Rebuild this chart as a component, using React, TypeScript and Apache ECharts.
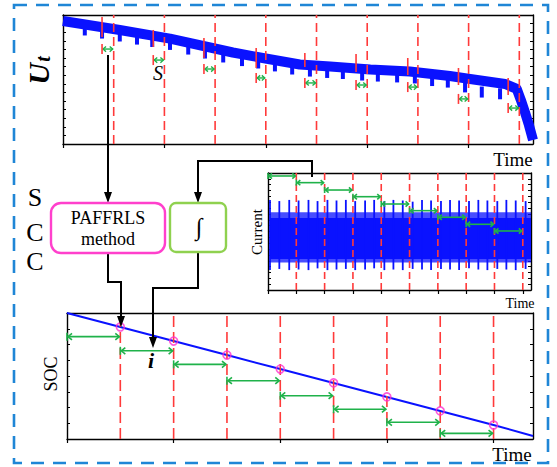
import React, { useEffect, useRef } from 'react';
import * as echarts from 'echarts';

const SERIF = '"Liberation Serif","Times New Roman",serif';
const BLUE = '#0a12ff';
const RED = '#ff3a3a';
const GREEN = '#1fb24a';

// ---------- Top panel: terminal voltage Ut ----------
const utX = [0, 1.12, 2.11, 3.35, 3.94, 4.67, 5.27, 6.06, 6.84, 7.63, 8.03, 8.72, 8.95, 9.03, 9.11, 9.19, 9.27];
const utV = [7.15, 6.63, 6.13, 5.32, 5.0, 4.62, 4.51, 4.33, 4.22, 3.95, 3.78, 3.49, 3.2, 2.56, 1.86, 1.1, 0.23];
const dipX = [0.43, 0.77, 1.12, 1.46, 1.76, 2.11, 2.47, 2.8, 3.16, 3.53, 3.85, 4.18, 4.52, 4.87, 5.21, 5.52, 5.9, 6.21, 6.59, 6.94, 7.28, 7.59, 7.93, 8.26, 8.62];
const dipV = [6.31, 6.13, 5.96, 5.78, 5.64, 5.47, 5.2, 4.97, 4.74, 4.53, 4.39, 4.22, 4.04, 3.92, 3.84, 3.78, 3.69, 3.63, 3.58, 3.52, 3.37, 3.28, 3.0, 2.7, 2.6];
const topRedX = [1, 2, 3, 4, 5, 6, 7, 8, 9];
const markX = [0.77, 1.78, 2.78, 3.81, 4.77, 5.78, 6.8, 7.8, 8.78];
const markTop = [7.38, 6.63, 6.16, 5.58, 5.29, 5.23, 5.0, 4.42, 3.84];
const markBottom = [6.22, 5.64, 5.0, 4.42, 4.48, 4.19, 4.01, 3.43, 2.85];
const topArrowY = [5.52, 4.88, 4.36, 3.84, 3.55, 3.43, 3.31, 2.62, 2.09];

// ---------- Middle panel: current ----------
const curRedX = [1, 2, 3, 4, 5, 6, 7, 8, 9];
const curArrowY = [19.49, 18.35, 17.09, 15.95, 14.7, 13.56, 12.43, 11.23, 10.09];
const spikeX = [0.07, 0.4, 0.75, 1.08, 1.43, 1.75, 2.1, 2.42, 2.75, 3.08, 3.43, 3.75, 4.11, 4.43, 4.76, 5.11, 5.44, 5.76, 6.11, 6.43, 6.75, 7.1, 7.43, 7.75, 8.1, 8.42, 8.75, 9.1];
const spikeHigh = [15.4, 15.2, 15.4, 15.3, 15.4, 15.2, 15.4, 15.3, 15.4, 15.2, 15.3, 15.4, 15.2, 15.4, 15.3, 15.1, 15.4, 15.3, 15.2, 15.4, 15.3, 15.2, 15.4, 15.3, 15.2, 15.4, 15.3, 15.2];
const spikeLow = [3.4, 3.6, 3.4, 3.5, 3.4, 3.7, 3.4, 3.5, 3.6, 3.4, 3.5, 3.7, 3.4, 3.5, 3.4, 3.6, 3.5, 3.4, 3.6, 3.5, 3.4, 3.7, 3.5, 3.4, 3.6, 3.5, 3.4, 3.6];
const coreBand = [[0.07, 9.29, 5.3, 12.3]];
const fuzzBand = [[0.07, 9.29, 12.3, 13.3], [0.07, 9.29, 4.7, 5.3]];

// ---------- Bottom panel: SOC ----------
const socX = [0, 1, 2, 3, 4, 5, 6, 7, 8, 8.74];
const socV = [8.0, 7.11, 6.22, 5.33, 4.44, 3.56, 2.67, 1.78, 0.89, 0.19];
const socRedX = [1, 2, 3, 4, 5, 6, 7, 8];
const socArrowY = [6.5, 5.6, 4.74, 3.7, 2.75, 1.89, 1.06, 0.36];

const TOP_MAX_X = 9.27, CUR_MAX_X = 9.29, SOC_MAX_X = 8.74;
const TOP_MAX_Y = 7.5, CUR_MAX_Y = 20, SOC_MAX_Y = 8;

function redLines(xi: number, yi: number, xs: number[], yMax: number, dash: number[]) {
  return {
    type: 'custom', xAxisIndex: xi, yAxisIndex: yi, z: 5, silent: true,
    data: xs.map((x) => [x, 0]),
    renderItem: (p: any, api: any) => {
      const a = api.coord([api.value(0), 0]);
      const b = api.coord([api.value(0), yMax]);
      return { type: 'line', shape: { x1: a[0], y1: a[1], x2: b[0], y2: b[1] }, style: { stroke: RED, lineWidth: 1.6, lineDash: dash } };
    },
  };
}

function arrows(xi: number, yi: number, data: number[][], head: number, lw: number, barColor: string, barH: number) {
  return {
    type: 'custom', xAxisIndex: xi, yAxisIndex: yi, z: 6, silent: true,
    data,
    renderItem: (p: any, api: any) => {
      const a = api.coord([api.value(0), api.value(2)]);
      const b = api.coord([api.value(1), api.value(2)]);
      const st = { stroke: GREEN, lineWidth: lw, fill: 'none' };
      const hh = head * 0.65;
      return {
        type: 'group',
        children: [
          { type: 'line', shape: { x1: a[0] + 1, y1: a[1], x2: b[0] - 1, y2: b[1] }, style: st },
          { type: 'polyline', shape: { points: [[a[0] + head, a[1] - hh], [a[0] + 1, a[1]], [a[0] + head, a[1] + hh]] }, style: st },
          { type: 'polyline', shape: { points: [[b[0] - head, b[1] - hh], [b[0] - 1, b[1]], [b[0] - head, b[1] + hh]] }, style: st },
          { type: 'line', shape: { x1: a[0], y1: a[1] - barH, x2: a[0], y2: a[1] + barH }, style: { stroke: barColor, lineWidth: 1.6 } },
        ],
      };
    },
  };
}

function rects(xi: number, yi: number, data: number[][], opacity: number) {
  return {
    type: 'custom', xAxisIndex: xi, yAxisIndex: yi, z: 2, silent: true,
    data,
    renderItem: (p: any, api: any) => {
      const a = api.coord([api.value(0), api.value(3)]);
      const b = api.coord([api.value(1), api.value(2)]);
      return { type: 'rect', shape: { x: a[0], y: a[1], width: b[0] - a[0], height: b[1] - a[1] }, style: { fill: BLUE, opacity } };
    },
  };
}

function axesFor(grid: number, maxX: number, xInt: number, xTicks: number[], maxY: number, yInt: number) {
  const line = { show: true, onZero: false, lineStyle: { color: '#000', width: 1.4 } };
  const xs = [
    { type: 'value', gridIndex: grid, min: 0, max: maxX, interval: xInt, position: 'bottom', axisLine: line,
      axisTick: { show: true, inside: false, length: 4, customValues: xTicks, lineStyle: { color: '#000', width: 1.2 } },
      axisLabel: { show: false }, splitLine: { show: false } },
    { type: 'value', gridIndex: grid, min: 0, max: maxX, position: 'top', axisLine: line,
      axisTick: { show: false }, axisLabel: { show: false }, splitLine: { show: false } },
  ];
  const ys = [
    { type: 'value', gridIndex: grid, min: 0, max: maxY, interval: yInt, position: 'left', axisLine: line,
      axisTick: { show: true, inside: true, length: 3, lineStyle: { color: '#000', width: 1 } },
      axisLabel: { show: false }, splitLine: { show: false } },
    { type: 'value', gridIndex: grid, min: 0, max: maxY, interval: yInt, position: 'right', axisLine: line,
      axisTick: { show: true, inside: true, length: 3, lineStyle: { color: '#000', width: 1 } },
      axisLabel: { show: false }, splitLine: { show: false } },
  ];
  return { xs, ys };
}

function txt(x: number, y: number, text: string, size: number, extra: any = {}, rotation = 0) {
  return {
    type: 'text', x, y, rotation, z: 50,
    style: { text, fontSize: size, fontFamily: SERIF, fill: '#000', align: 'center', verticalAlign: 'middle', ...extra },
  };
}

function poly(points: number[][]) {
  return { type: 'polyline', z: 40, shape: { points }, style: { stroke: '#000', lineWidth: 2, fill: 'none' } };
}

function headDown(x: number, tip: number) {
  return { type: 'polygon', z: 41, shape: { points: [[x - 4, tip - 11], [x + 4, tip - 11], [x, tip]] }, style: { fill: '#000' } };
}

export default function App() {
  const ref = useRef<HTMLDivElement>(null);
  useEffect(() => {
    if (!ref.current) return;
    const chart = echarts.init(ref.current, undefined, { renderer: 'svg' });
    const A = axesFor(0, TOP_MAX_X, 2, [0, 2, 4, 6, 8], TOP_MAX_Y, 0.5);
    const B = axesFor(1, CUR_MAX_X, 1, [0, 1, 2, 3, 4, 5, 6, 7, 8, 9], CUR_MAX_Y, 1);
    const C = axesFor(2, SOC_MAX_X, 2, [0, 2, 4, 6, 8], SOC_MAX_Y, 1);

    const option: any = {
      animation: false,
      backgroundColor: '#fff',
      grid: [
        { left: 63, top: 15, width: 470, height: 129 },
        { left: 268, top: 173, width: 263, height: 117 },
        { left: 67, top: 313, width: 466, height: 126 },
      ],
      xAxis: [A.xs[0], A.xs[1], B.xs[0], B.xs[1], C.xs[0], C.xs[1]],
      yAxis: [A.ys[0], A.ys[1], B.ys[0], B.ys[1], C.ys[0], C.ys[1]],
      series: [
        // top
        {
          type: 'custom', xAxisIndex: 0, yAxisIndex: 0, z: 2, silent: true,
          data: dipX.map((x, i) => [x, dipV[i]]),
          renderItem: (p: any, api: any) => {
            const c = api.coord([api.value(0), api.value(1)]);
            return { type: 'rect', shape: { x: c[0] - 2, y: c[1] - 11, width: 4, height: 11 }, style: { fill: BLUE } };
          },
        },
        {
          type: 'line', xAxisIndex: 0, yAxisIndex: 0, z: 3, symbol: 'none', silent: true,
          data: utX.map((x, i) => [x, utV[i]]),
          lineStyle: { color: BLUE, width: 10, join: 'round', cap: 'butt' },
        },
        redLines(0, 0, topRedX, TOP_MAX_Y, [9, 5]),
        {
          type: 'custom', xAxisIndex: 0, yAxisIndex: 0, z: 6, silent: true,
          data: markX.map((x, i) => [x, markBottom[i], markTop[i]]),
          renderItem: (p: any, api: any) => {
            const a = api.coord([api.value(0), api.value(1)]);
            const b = api.coord([api.value(0), api.value(2)]);
            return { type: 'line', shape: { x1: a[0], y1: a[1], x2: b[0], y2: b[1] }, style: { stroke: RED, lineWidth: 1.6 } };
          },
        },
        arrows(0, 0, markX.map((x, i) => [x, topRedX[i], topArrowY[i]]), 4, 1.4, RED, 5),
        // current
        rects(2, 2, fuzzBand, 0.75),
        rects(2, 2, coreBand, 1),
        {
          type: 'custom', xAxisIndex: 2, yAxisIndex: 2, z: 3, silent: true,
          data: spikeX.map((x, i) => [x, spikeLow[i], spikeHigh[i]]),
          renderItem: (p: any, api: any) => {
            const a = api.coord([api.value(0), api.value(1)]);
            const b = api.coord([api.value(0), api.value(2)]);
            return { type: 'line', shape: { x1: a[0], y1: a[1], x2: b[0], y2: b[1] }, style: { stroke: BLUE, lineWidth: 1.8 } };
          },
        },
        redLines(2, 2, curRedX, CUR_MAX_Y, [7, 4]),
        arrows(2, 2, curRedX.map((x, i) => [x - 1, x, curArrowY[i]]), 4, 1.6, GREEN, 3),
        // SOC
        {
          type: 'line', xAxisIndex: 4, yAxisIndex: 4, z: 3, symbol: 'none', silent: true,
          data: socX.map((x, i) => [x, socV[i]]),
          lineStyle: { color: BLUE, width: 2 },
        },
        redLines(4, 4, socRedX, SOC_MAX_Y, [11, 5]),
        {
          type: 'scatter', xAxisIndex: 4, yAxisIndex: 4, z: 7, silent: true,
          data: socRedX.map((x) => [x, socV[socX.indexOf(x)]]),
          symbol: 'circle', symbolSize: 8,
          itemStyle: { color: 'rgba(0,0,0,0)', borderColor: '#ff30d0', borderWidth: 1.6 },
        },
        arrows(4, 4, socRedX.map((x, i) => [x - 1, x, socArrowY[i]]), 5, 1.6, GREEN, 4),
      ],
      graphic: {
        elements: [
          { type: 'rect', z: 30, shape: { x: 14, y: 5, width: 534, height: 458 },
            style: { fill: 'none', stroke: '#1f86d6', lineWidth: 2.6, lineDash: [13, 9] } },
          // connectors
          poly([[108, 55], [108, 194]]), headDown(108, 203),
          poly([[312, 177], [312, 161], [198, 161], [198, 194]]), headDown(198, 203),
          poly([[108, 253], [108, 282], [121, 282], [121, 318]]), headDown(121, 327),
          poly([[198, 252], [198, 288], [153, 288], [153, 339]]), headDown(153, 348),
          // boxes
          { type: 'rect', z: 42, shape: { x: 51, y: 203, width: 114, height: 50, r: 10 },
            style: { fill: '#fff', stroke: '#ff40cc', lineWidth: 2.4 } },
          { type: 'rect', z: 42, shape: { x: 170, y: 203, width: 56, height: 49, r: 6 },
            style: { fill: '#fff', stroke: '#8fd14f', lineWidth: 2.4 } },
          txt(108, 218, 'PAFFRLS', 18),
          txt(108, 239, 'method', 18),
          txt(199, 227, '∫', 24, { fontStyle: 'italic' }),
          // labels
          txt(38, 74, 'U', 30, { fontStyle: 'italic', fontWeight: 'bold' }, Math.PI / 2),
          txt(43, 59, 't', 20, { fontStyle: 'italic', fontWeight: 'bold' }, Math.PI / 2),
          txt(158, 73, 'S', 20, { fontStyle: 'italic' }),
          txt(513, 159, 'Time', 19),
          txt(35, 197, 'S', 26),
          txt(35, 232, 'C', 26),
          txt(35, 261, 'C', 26),
          txt(257, 232, 'Current', 15, {}, Math.PI / 2),
          txt(520, 303, 'Time', 14),
          txt(51, 374, 'SOC', 18, {}, Math.PI / 2),
          txt(512, 454, 'Time', 19),
          txt(151, 360, 'i', 22, { fontStyle: 'italic', fontWeight: 'bold' }),
        ],
      },
    };
    chart.setOption(option);
    return () => chart.dispose();
  }, []);
  return <div ref={ref} style={{ position: 'fixed', left: 0, top: 0, width: 557, height: 467, background: '#fff' }} />;
}
